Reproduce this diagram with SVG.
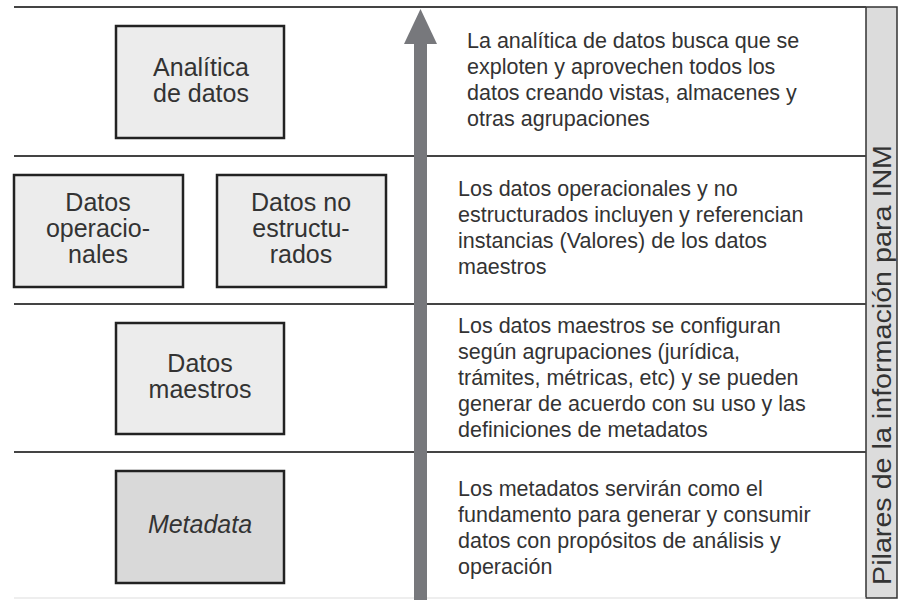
<svg xmlns="http://www.w3.org/2000/svg" width="900" height="600" viewBox="0 0 900 600">
<style>
.sep{stroke:#444;stroke-width:2;fill:none}
.box{fill:#ececec;stroke:#222;stroke-width:2.5}
.meta{fill:#d9d9d9;stroke:#222;stroke-width:2.5}
.bt{font-family:"Liberation Sans",Arial,sans-serif;font-size:25px;fill:#333;text-anchor:middle}
.dt{font-family:"Liberation Sans",Arial,sans-serif;font-size:21.5px;fill:#333}
.side{font-family:"Liberation Sans",Arial,sans-serif;font-size:25px;fill:#333;text-anchor:middle}
</style>
<rect width="900" height="600" fill="#fff"/>
<g id="side-strip">
<rect x="866" y="7" width="31" height="591" fill="#dcdcdc" stroke="#333" stroke-width="1.5"/>
<text class="side" transform="translate(891 365) rotate(-90)" textLength="440" lengthAdjust="spacingAndGlyphs">Pilares de la información para INM</text>
</g>
<g id="separators">
<line class="sep" x1="14" y1="7" x2="866" y2="7"/>
<line class="sep" x1="14" y1="156" x2="866" y2="156"/>
<line class="sep" x1="14" y1="304" x2="866" y2="304"/>
<line class="sep" x1="14" y1="452" x2="866" y2="452"/>
<line x1="14" y1="598" x2="866" y2="598" stroke="#ddd" stroke-width="1"/>
</g>
<g id="connectors">
<rect x="414" y="40" width="13" height="560" fill="#77787c"/>
<polygon points="420.5,9 437,44 404,44" fill="#77787c"/>
</g>
<g id="analitica">
<rect class="box" x="116" y="26" width="168" height="112"/>
<text class="bt" x="201" y="76" font-size="27">Analítica</text>
<text class="bt" x="201" y="102" font-size="27">de datos</text>
</g>
<g id="operacionales">
<rect class="box" x="14" y="175" width="169" height="112"/>
<text class="bt" x="98" y="211">Datos</text>
<text class="bt" x="98" y="237">operacio-</text>
<text class="bt" x="98" y="263">nales</text>
</g>
<g id="no-estructurados">
<rect class="box" x="217" y="175" width="169" height="112"/>
<text class="bt" x="301" y="211">Datos no</text>
<text class="bt" x="301" y="237">estructu-</text>
<text class="bt" x="301" y="263">rados</text>
</g>
<g id="maestros">
<rect class="box" x="116" y="323" width="168" height="111"/>
<text class="bt" x="200" y="372">Datos</text>
<text class="bt" x="200" y="398">maestros</text>
</g>
<g id="metadata">
<rect class="meta" x="116" y="471" width="168" height="112"/>
<text class="bt" x="200" y="533" font-style="italic" font-size="22.5">Metadata</text>
</g>
<g id="desc-analitica">
<text class="dt" x="467" y="48">La analítica de datos busca que se</text>
<text class="dt" x="467" y="74">exploten y aprovechen todos los</text>
<text class="dt" x="467" y="100">datos creando vistas, almacenes y</text>
<text class="dt" x="467" y="126">otras agrupaciones</text>
</g>
<g id="desc-operacionales">
<text class="dt" x="458" y="196">Los datos operacionales y no</text>
<text class="dt" x="458" y="222">estructurados incluyen y referencian</text>
<text class="dt" x="458" y="248">instancias (Valores) de los datos</text>
<text class="dt" x="458" y="274">maestros</text>
</g>
<g id="desc-maestros">
<text class="dt" x="458" y="333">Los datos maestros se configuran</text>
<text class="dt" x="458" y="359">según agrupaciones (jurídica,</text>
<text class="dt" x="458" y="385">trámites, métricas, etc) y se pueden</text>
<text class="dt" x="458" y="411">generar de acuerdo con su uso y las</text>
<text class="dt" x="458" y="437">definiciones de metadatos</text>
</g>
<g id="desc-metadata">
<text class="dt" x="458" y="496">Los metadatos servirán como el</text>
<text class="dt" x="458" y="522">fundamento para generar y consumir</text>
<text class="dt" x="458" y="548">datos con propósitos de análisis y</text>
<text class="dt" x="458" y="574">operación</text>
</g>
</svg>
